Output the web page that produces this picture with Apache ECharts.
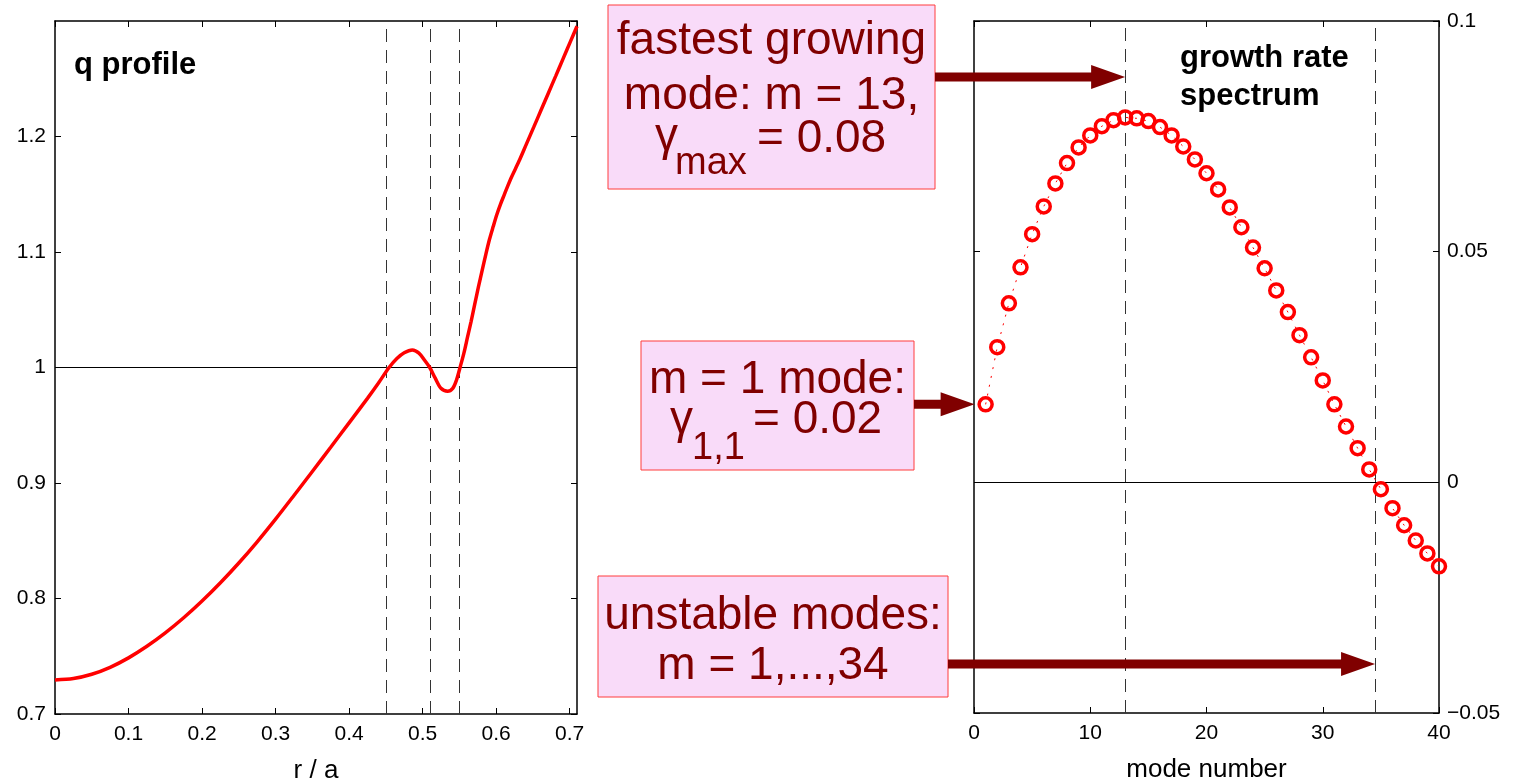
<!DOCTYPE html>
<html>
<head>
<meta charset="utf-8">
<script src="https://cdn.jsdelivr.net/npm/echarts@6/dist/echarts.min.js"></script>
<style>
html,body{margin:0;padding:0;background:#fff;}
#main{width:1518px;height:784px;}
</style>
</head>
<body>
<div id="main"></div>
<script>
// ---- data ----
const rQ = [0, 0.025, 0.05, 0.075, 0.1, 0.125, 0.15, 0.175, 0.2, 0.225, 0.25, 0.275, 0.3, 0.325, 0.35, 0.375, 0.4, 0.425, 0.44, 0.4544, 0.465, 0.475, 0.486, 0.495, 0.503, 0.5097, 0.517, 0.525, 0.534, 0.541, 0.546, 0.5509, 0.556, 0.561, 0.566, 0.571, 0.576, 0.581, 0.586, 0.591, 0.596, 0.601, 0.606, 0.611, 0.616, 0.621, 0.631, 0.641, 0.651, 0.661, 0.671, 0.681, 0.691, 0.701, 0.71];
const qVals = [0.7295, 0.7307, 0.7344, 0.7404, 0.7486, 0.7586, 0.7702, 0.7833, 0.7978, 0.8136, 0.8307, 0.8491, 0.8687, 0.8892, 0.9100, 0.9310, 0.9521, 0.9733, 0.9866, 1.0, 1.0078, 1.0128, 1.0152, 1.0125, 1.006, 1.0, 0.991, 0.982, 0.9795, 0.982, 0.989, 1.0, 1.012, 1.026, 1.040, 1.055, 1.070, 1.084, 1.098, 1.111, 1.122, 1.1325, 1.1415, 1.1495, 1.1575, 1.165, 1.1785, 1.1932, 1.2079, 1.2227, 1.2375, 1.2523, 1.2672, 1.2821, 1.2955];
const qResonances = [0.4544, 0.5097, 0.5509];
const qRef = 1;

const modeNums = [1, 2, 3, 4, 5, 6, 7, 8, 9, 10, 11, 12, 13, 14, 15, 16, 17, 18, 19, 20, 21, 22, 23, 24, 25, 26, 27, 28, 29, 30, 31, 32, 33, 34, 35, 36, 37, 38, 39, 40];
const growth = [0.0169, 0.0293, 0.0388, 0.0466, 0.0538, 0.0598, 0.0648, 0.0692, 0.0726, 0.0752, 0.0772, 0.0785, 0.0791, 0.0789, 0.0783, 0.0770, 0.0752, 0.0728, 0.0700, 0.0670, 0.0635, 0.0596, 0.0553, 0.0509, 0.0464, 0.0416, 0.0369, 0.0319, 0.0271, 0.0221, 0.0169, 0.0121, 0.0074, 0.0028, -0.0015, -0.0056, -0.0093, -0.0126, -0.0154, -0.0182];
const fastestMode = 13;
const unstableEdge = 34.5;

const FONT = '"Liberation Sans", Arial, Helvetica, sans-serif';
const DARK = '#800000';
const TICKFS = 21;

const chart = echarts.init(document.getElementById('main'), null, {renderer: 'canvas'});

function axisCommon(extra) {
  return Object.assign({
    axisLine: {show: true, onZero: false, lineStyle: {color: '#000', width: 1.5}},
    axisTick: {show: true, inside: true, length: 6, lineStyle: {color: '#000', width: 1}},
    splitLine: {show: false},
    axisLabel: {show: true, color: '#000', fontSize: TICKFS, fontFamily: FONT, margin: 9}
  }, extra);
}
const noLabel = {show: false};

const option = {
  backgroundColor: '#fff',
  animation: false,
  textStyle: {fontFamily: FONT},
  title: [
    {text: 'q profile', left: 69, top: 45, textStyle: {fontSize: 31, fontWeight: 'bold', color: '#000', fontFamily: FONT}},
    {text: 'growth rate\nspectrum', left: 1175, top: 34, textStyle: {fontSize: 31, fontWeight: 'bold', color: '#000', fontFamily: FONT, lineHeight: 38}}
  ],
  grid: [
    {left: 55, top: 21, width: 522, height: 693, containLabel: false, outerBoundsMode: 'none'},
    {left: 974, top: 21, width: 465, height: 692, containLabel: false, outerBoundsMode: 'none'}
  ],
  xAxis: [
    axisCommon({gridIndex: 0, type: 'value', position: 'bottom', min: 0, max: 0.71, interval: 0.1,
      axisLabel: {show: true, color: '#000', fontSize: TICKFS, fontFamily: FONT, margin: 10, showMaxLabel: false},
      name: 'r / a', nameLocation: 'middle', nameGap: 44, nameTextStyle: {fontSize: 26, color: '#000', fontFamily: FONT}}),
    axisCommon({gridIndex: 0, type: 'value', position: 'top', min: 0, max: 0.71, interval: 0.1, axisLabel: noLabel}),
    axisCommon({gridIndex: 1, type: 'value', position: 'bottom', min: 0, max: 40, interval: 10,
      axisLabel: {show: true, color: '#000', fontSize: TICKFS, fontFamily: FONT, margin: 10},
      name: 'mode number', nameLocation: 'middle', nameGap: 44, nameTextStyle: {fontSize: 26, color: '#000', fontFamily: FONT}}),
    axisCommon({gridIndex: 1, type: 'value', position: 'top', min: 0, max: 40, interval: 10, axisLabel: noLabel})
  ],
  yAxis: [
    axisCommon({gridIndex: 0, type: 'value', position: 'left', min: 0.7, max: 1.3, interval: 0.1,
      axisLabel: {show: true, color: '#000', fontSize: TICKFS, fontFamily: FONT, margin: 9, showMaxLabel: false,
        formatter: v => String(Math.round(v * 10) / 10)}}),
    axisCommon({gridIndex: 0, type: 'value', position: 'right', min: 0.7, max: 1.3, interval: 0.1, axisLabel: noLabel}),
    axisCommon({gridIndex: 1, type: 'value', position: 'right', min: -0.05, max: 0.1, interval: 0.05,
      axisLabel: {show: true, color: '#000', fontSize: TICKFS, fontFamily: FONT, margin: 8,
        formatter: v => { const r = Math.round(v * 100) / 100; return r < 0 ? '\u2212' + String(Math.abs(r)) : String(r); }}}),
    axisCommon({gridIndex: 1, type: 'value', position: 'left', min: -0.05, max: 0.1, interval: 0.05, axisLabel: noLabel})
  ],
  series: [
    {
      type: 'line', xAxisIndex: 0, yAxisIndex: 0,
      data: rQ.map((r, i) => [r, qVals[i]]),
      smooth: 0.3, showSymbol: false, symbol: 'none',
      lineStyle: {color: '#ff0000', width: 3.5},
      z: 5,
      markLine: {
        silent: true, symbol: ['none', 'none'], label: {show: false}, animation: false,
        data: [
          {yAxis: qRef, lineStyle: {color: '#000', width: 1, type: 'solid'}},
          ...qResonances.map(x => ({xAxis: x, lineStyle: {color: '#333', width: 1, type: [13, 8]}}))
        ]
      }
    },
    {
      type: 'line', xAxisIndex: 2, yAxisIndex: 2,
      data: modeNums.map((m, i) => [m, growth[i]]),
      symbol: 'circle', symbolSize: 13, showSymbol: true,
      itemStyle: {color: 'rgba(255,255,255,0)', borderColor: '#ff0000', borderWidth: 3.5},
      lineStyle: {color: '#ff0000', width: 1, type: [2, 7]},
      z: 5,
      markLine: {
        silent: true, symbol: ['none', 'none'], label: {show: false}, animation: false,
        data: [
          {yAxis: 0, lineStyle: {color: '#000', width: 1, type: 'solid'}},
          {xAxis: fastestMode, lineStyle: {color: '#333', width: 1, type: [13, 8]}},
          {xAxis: unstableEdge, lineStyle: {color: '#333', width: 1, type: [13, 8]}}
        ]
      }
    }
  ]
};
chart.setOption(option);

// ---- annotations ----
function arrow(x0, x1, y) {
  const sh = 4.5, hl = 34, hh = 12;
  return {
    type: 'polygon', z: 100, silent: true,
    shape: {points: [[x0, y - sh], [x1 - hl, y - sh], [x1 - hl, y - hh], [x1, y], [x1 - hl, y + hh], [x1 - hl, y + sh], [x0, y + sh]]},
    style: {fill: DARK, stroke: null}
  };
}
function box(x, y, w, h) {
  return {type: 'rect', z: 90, silent: true, shape: {x: x, y: y, width: w, height: h},
    style: {fill: '#f9dbf9', stroke: '#ff3c3c', lineWidth: 1}};
}
function txt(s, x, y, size, align) {
  return {type: 'text', z: 95, silent: true, x: x, y: y,
    style: {text: s, fill: DARK, font: size + 'px ' + FONT, align: align || 'center', verticalAlign: 'middle'}};
}

const tip13 = chart.convertToPixel({xAxisIndex: 2, yAxisIndex: 2}, [fastestMode, 0]);
const tipEdge = chart.convertToPixel({xAxisIndex: 2, yAxisIndex: 2}, [unstableEdge, 0]);
const tipM1 = chart.convertToPixel({xAxisIndex: 2, yAxisIndex: 2}, [modeNums[0], growth[0]]);

chart.setOption({
  graphic: [
    box(608, 5, 327, 184),
    txt('fastest growing', 771.5, 41, 46),
    txt('mode: m = 13,', 771.5, 96, 46),
    txt('\u03b3', 655, 137, 46, 'left'),
    txt('max', 675, 164, 38, 'left'),
    txt('= 0.08', 757, 139, 46, 'left'),
    arrow(935, tip13[0], 77),

    box(641, 341, 273, 129),
    txt('m = 1 mode:', 777.5, 380, 46),
    txt('\u03b3', 670, 420, 46, 'left'),
    txt('1,1', 692, 449, 38, 'left'),
    txt('= 0.02', 753, 420, 46, 'left'),
    arrow(914, tipM1[0] - 11, tipM1[1]),

    box(598, 576, 350, 121),
    txt('unstable modes:', 773, 616, 46),
    txt('m = 1,...,34', 773, 666, 46),
    arrow(948, tipEdge[0], 664)
  ]
});
</script>
</body>
</html>
